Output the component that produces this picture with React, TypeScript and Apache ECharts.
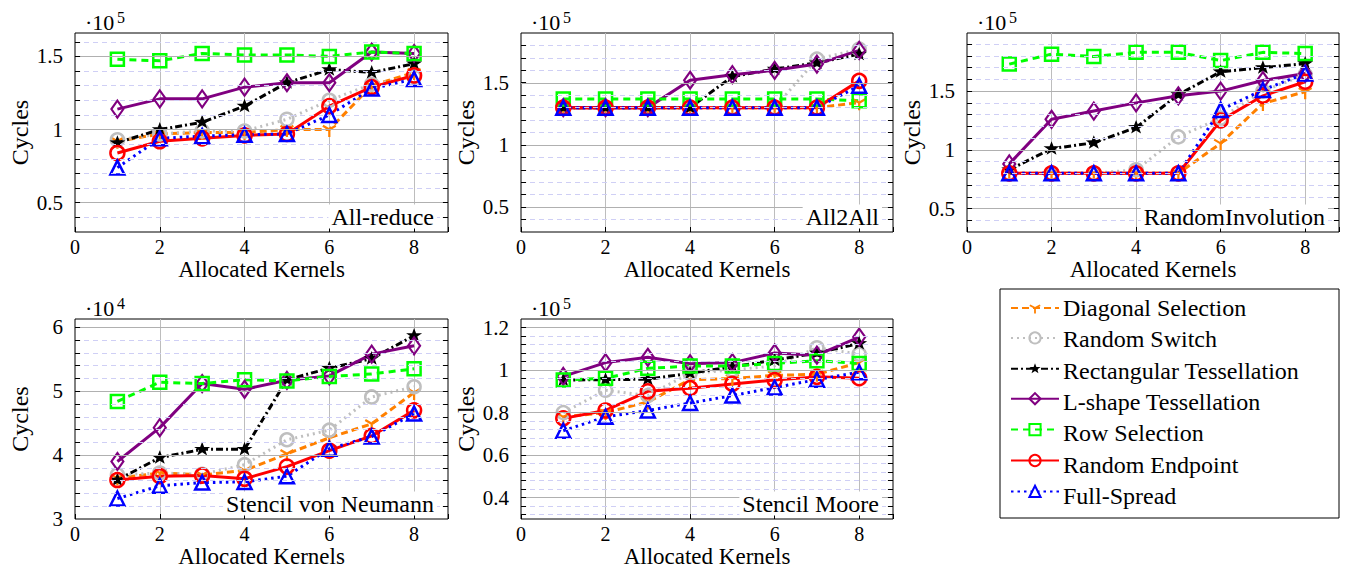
import React, { useEffect, useRef } from "react";
import * as echarts from "echarts";

const FONT = "Liberation Serif, Times New Roman, serif";

const kernels = [1, 2, 3, 4, 5, 6, 7, 8];
const xTicks = [0, 2, 4, 6, 8];

const seriesNames = [
  "Diagonal Selection",
  "Random Switch",
  "Rectangular Tessellation",
  "L-shape Tessellation",
  "Row Selection",
  "Random Endpoint",
  "Full-Spread",
];

const panelTitles = ["All-reduce", "All2All", "RandomInvolution", "Stencil von Neumann", "Stencil Moore"];
const panelExponents = ["5", "5", "5", "4", "5"];
const xAxisName = "Allocated Kernels";
const yAxisName = "Cycles";

// rows follow seriesNames order; values in units of 10^exponent
const allReduce = [
  [0.92, 0.97, 0.98, 0.98, 1.0, 1.0, 1.3, 1.39],
  [0.93, 0.97, 0.99, 0.99, 1.07, 1.2, 1.31, 1.36],
  [0.91, 1.0, 1.05, 1.16, 1.32, 1.41, 1.39, 1.45],
  [1.14, 1.21, 1.21, 1.29, 1.32, 1.32, 1.53, 1.52],
  [1.48, 1.47, 1.52, 1.51, 1.51, 1.5, 1.53, 1.52],
  [0.84, 0.92, 0.94, 0.96, 0.97, 1.16, 1.29, 1.37],
  [0.74, 0.94, 0.955, 0.965, 0.97, 1.1, 1.28, 1.345],
];
const all2All = [
  [1.3, 1.3, 1.3, 1.3, 1.3, 1.3, 1.3, 1.34],
  [1.3, 1.3, 1.3, 1.3, 1.3, 1.3, 1.69, 1.77],
  [1.3, 1.3, 1.3, 1.3, 1.55, 1.61, 1.66, 1.73],
  [1.3, 1.3, 1.3, 1.52, 1.565, 1.6, 1.65, 1.76],
  [1.37, 1.37, 1.37, 1.37, 1.37, 1.37, 1.37, 1.355],
  [1.3, 1.3, 1.3, 1.3, 1.3, 1.3, 1.3, 1.515],
  [1.3, 1.3, 1.3, 1.3, 1.3, 1.3, 1.3, 1.475],
];
const randomInvolution = [
  [0.8, 0.8, 0.8, 0.8, 0.8, 1.055, 1.395, 1.495],
  [0.8, 0.8, 0.8, 0.83, 1.11, 1.27, 1.5, 1.64],
  [0.83, 1.01, 1.06, 1.19, 1.47, 1.665, 1.7, 1.735],
  [0.88, 1.26, 1.33, 1.4, 1.46, 1.5, 1.59, 1.65],
  [1.73, 1.815, 1.795, 1.83, 1.83, 1.76, 1.83, 1.82],
  [0.8, 0.8, 0.8, 0.8, 0.8, 1.25, 1.46, 1.58],
  [0.8, 0.8, 0.8, 0.8, 0.8, 1.34, 1.51, 1.65],
];
const stencilVonNeumann = [
  [3.64, 3.72, 3.69, 3.76, 4.02, 4.27, 4.49, 4.98],
  [3.69, 3.72, 3.7, 3.85, 4.24, 4.39, 4.91, 5.07],
  [3.61, 3.96, 4.09, 4.09, 5.18, 5.36, 5.51, 5.87],
  [3.9, 4.43, 5.12, 5.03, 5.17, 5.24, 5.58, 5.71],
  [4.84, 5.14, 5.12, 5.18, 5.16, 5.23, 5.27, 5.35],
  [3.61, 3.67, 3.68, 3.63, 3.82, 4.07, 4.3, 4.7],
  [3.32, 3.52, 3.57, 3.58, 3.67, 4.1, 4.29, 4.65],
];
const stencilMoore = [
  [0.78, 0.8, 0.85, 0.955, 0.96, 0.975, 0.98, 1.035],
  [0.8, 0.905, 0.88, 0.985, 1.0, 1.02, 1.105, 1.075],
  [0.953, 0.955, 0.957, 0.985, 1.015, 1.047, 1.08, 1.125],
  [0.97, 1.035, 1.06, 1.03, 1.035, 1.08, 1.07, 1.155],
  [0.953, 0.961, 1.008, 1.019, 1.019, 1.031, 1.044, 1.031],
  [0.773, 0.81, 0.9, 0.915, 0.935, 0.953, 0.968, 0.962],
  [0.715, 0.78, 0.81, 0.845, 0.88, 0.918, 0.955, 0.99],
];

const panelValues = [allReduce, all2All, randomInvolution, stencilVonNeumann, stencilMoore];

const yMajorTicks = [
  [0.5, 1, 1.5],
  [0.5, 1, 1.5],
  [0.5, 1, 1.5],
  [3, 4, 5, 6],
  [0.4, 0.6, 0.8, 1, 1.2],
];
const yMinorSteps = [0.1, 0.1, 0.1, 0.2, 0.04];
const yLabelSteps = [0.1, 0.1, 0.1, 0.2, 0.02];
const yRanges = [
  [0.3, 1.66],
  [0.3, 1.9],
  [0.3, 1.995],
  [3, 6.13],
  [0.3, 1.24],
];
const xRange = [0, 8.8];

const gridBoxes = [
  { left: 75, top: 33, width: 373, height: 199 },
  { left: 521, top: 33, width: 372, height: 199 },
  { left: 967, top: 33, width: 372, height: 199 },
  { left: 75, top: 319, width: 373, height: 200 },
  { left: 521, top: 319, width: 372, height: 200 },
];

const Y_PATH =
  "path://M-0.15,0L-0.15,1L0.15,1L0.15,0Z" +
  "M0.075,-0.13L-0.791,-0.63L-0.941,-0.37L-0.075,0.13Z" +
  "M0.075,0.13L0.941,-0.37L0.791,-0.63L-0.075,-0.13Z" +
  "M0,-1L0.001,-1L0,-1Z";
const STAR_PATH =
  "path://M0,-1L0.235,-0.324L0.951,-0.309L0.38,0.124L0.588,0.809L0,0.4L-0.588,0.809L-0.38,0.124L-0.951,-0.309L-0.235,-0.324Z" +
  "M0,1L0.001,1L0,1Z";

const LW = 3;
const seriesStyles = [
  { color: "#ff8000", dash: [7, 4], symbol: Y_PATH, size: [14, 15], fill: "#ff8000", bw: 0 },
  { color: "#bfbfbf", dash: [2, 4], symbol: "circle", size: 13, fill: "rgba(0,0,0,0)", bw: 2.5 },
  { color: "#000000", dash: [7, 3, 2, 3], symbol: STAR_PATH, size: [16, 15], fill: "#000000", bw: 0 },
  { color: "#800080", dash: "solid", symbol: "diamond", size: [12, 17], fill: "rgba(0,0,0,0)", bw: 2.2 },
  { color: "#00ff00", dash: [7, 5], symbol: "rect", size: 13, fill: "rgba(0,0,0,0)", bw: 2.5 },
  { color: "#ff0000", dash: "solid", symbol: "circle", size: 14, fill: "rgba(0,0,0,0)", bw: 2.5 },
  { color: "#0000ff", dash: [2.5, 4], symbol: "triangle", size: 14, fill: "rgba(0,0,0,0)", bw: 2.5 },
];

const near = (a: number, b: number) => Math.abs(a - b) < 1e-6;
const fmt = (v: number) => String(parseFloat(v.toFixed(3)));

const LEGEND_TOP = 301;
const LEGEND_ROW = 31.3;
const LEGEND_ICON_H = 14;

function buildOption() {
  const grid: any[] = [];
  const xAxis: any[] = [];
  const yAxis: any[] = [];
  const series: any[] = [];

  panelValues.forEach((values, p) => {
    const box = gridBoxes[p];
    const [yMin, yMax] = yRanges[p];
    const majors = yMajorTicks[p];
    grid.push({ ...box, show: true, borderColor: "#000", borderWidth: 1, backgroundColor: "transparent" });
    xAxis.push({
      type: "value",
      gridIndex: p,
      min: xRange[0],
      max: xRange[1],
      interval: 2,
      axisLine: { show: false },
      axisTick: { show: true, inside: true, length: 5, lineStyle: { color: "#000" } },
      axisLabel: { show: false },
      splitLine: { show: true, showMinLine: false, showMaxLine: false, lineStyle: { color: "#bdbdbd", width: 1 } },
    });
    yAxis.push({
      type: "value",
      gridIndex: p,
      min: yMin,
      max: yMax,
      interval: yLabelSteps[p],
      axisLine: { show: false },
      axisTick: { show: false },
      splitLine: { show: false },
      axisLabel: { show: false },
    });

    const step = yMinorSteps[p];
    const lines: any[] = [];
    const tickLines: any[] = [];
    const tickLen = 0.12;
    const start = Math.ceil(yMin / step - 1e-9);
    const end = Math.floor(yMax / step + 1e-9);
    for (let k = start; k <= end; k++) {
      const v = parseFloat((k * step).toFixed(6));
      if (v <= yMin + 1e-6 || v >= yMax - 1e-6) continue;
      const isMajor = majors.some((t) => near(t, v));
      lines.push({
        yAxis: v,
        lineStyle: isMajor
          ? { color: "#b0b0b0", type: "solid", width: 1 }
          : { color: "#cfcff5", type: [5, 4], width: 1 },
      });
      const ts = { color: "#000", type: "solid", width: 1 };
      tickLines.push([
        { coord: [xRange[0], v], lineStyle: ts },
        { coord: [xRange[0] + tickLen, v], lineStyle: ts },
      ]);
      tickLines.push([
        { coord: [xRange[1] - tickLen, v], lineStyle: ts },
        { coord: [xRange[1], v], lineStyle: ts },
      ]);
    }
    series.push({
      type: "line",
      name: "_grid" + p,
      xAxisIndex: p,
      yAxisIndex: p,
      data: [],
      z: 1,
      silent: true,
      symbol: "none",
      markLine: {
        silent: true,
        symbol: ["none", "none"],
        label: { show: false },
        emphasis: { disabled: true },
        animation: false,
        data: [...lines, ...tickLines],
      },
    });

    values.forEach((row, s) => {
      const st = seriesStyles[s];
      series.push({
        type: "line",
        name: seriesNames[s],
        xAxisIndex: p,
        yAxisIndex: p,
        z: 3,
        clip: false,
        data: kernels.map((k, i) => [k, row[i]]),
        symbol: st.symbol,
        symbolSize: st.size,
        showSymbol: true,
        lineStyle: { color: st.color, width: LW, type: st.dash },
        itemStyle: { color: st.fill, borderColor: st.color, borderWidth: st.bw },
        emphasis: { disabled: true },
      });
    });
  });

  return {
    animation: false,
    backgroundColor: "#fff",
    textStyle: { fontFamily: FONT },
    grid,
    xAxis,
    yAxis,
    series,
    legend: {
      data: seriesNames,
      orient: "vertical",
      left: 1010,
      top: LEGEND_TOP,
      padding: 0,
      itemWidth: 48,
      itemHeight: LEGEND_ICON_H,
      itemGap: LEGEND_ROW - LEGEND_ICON_H,
      selectedMode: false,
      z: 10,
      formatter: () => "",
      textStyle: { fontSize: 1 },
    },
  };
}

const txt = (x: number, y: number, text: string, size: number, align: string, vAlign: string, extra: any = {}) => ({
  type: "text",
  x,
  y,
  z: 50,
  silent: true,
  ...extra,
  style: {
    text,
    align,
    verticalAlign: vAlign,
    fontSize: size,
    fontFamily: FONT,
    fill: "#000",
    ...(extra.style || {}),
  },
});

function buildGraphic(chart: any) {
  const graphic: any[] = [];
  graphic.push({
    type: "rect",
    z: 1,
    shape: { x: 1000, y: 289, width: 339, height: 229 },
    style: { fill: "#fff", stroke: "#000", lineWidth: 1 },
  });
  panelValues.forEach((_, p) => {
    const box = gridBoxes[p];
    const bottom = box.top + box.height;
    xTicks.forEach((t) => {
      const pt = chart.convertToPixel({ gridIndex: p }, [t, yRanges[p][0]]);
      graphic.push(txt(pt[0], bottom + 15, fmt(t), 20, "center", "middle"));
    });
    yMajorTicks[p].forEach((t) => {
      const pt = chart.convertToPixel({ gridIndex: p }, [xRange[0], t]);
      graphic.push(txt(box.left - 12, pt[1], fmt(t), 21, "right", "middle"));
    });
    graphic.push(txt(box.left + box.width / 2, bottom + 37.5, xAxisName, 23, "center", "middle"));
    graphic.push(
      txt(box.left - 55, box.top + box.height / 2, yAxisName, 24, "center", "middle", { rotation: Math.PI / 2 })
    );
    graphic.push(
      txt(box.left + box.width - 11, bottom - 15.5, panelTitles[p], 24, "right", "middle", {
        style: { backgroundColor: "#fff", padding: [0, 3] },
      })
    );
    graphic.push(txt(box.left + 10, box.top - 11, "·10", 22, "left", "middle"));
    graphic.push(txt(box.left + 42, box.top - 16, panelExponents[p], 16, "left", "middle"));
  });
  seriesNames.forEach((name, i) => {
    graphic.push(txt(1063, LEGEND_TOP + LEGEND_ICON_H / 2 + i * LEGEND_ROW, name, 24, "left", "middle"));
  });
  return graphic;
}

export default function App() {
  const ref = useRef<HTMLDivElement>(null);
  useEffect(() => {
    if (!ref.current) return;
    const chart = echarts.init(ref.current, undefined, { renderer: "svg" });
    chart.setOption(buildOption() as any);
    chart.setOption({ graphic: buildGraphic(chart) } as any);
    return () => chart.dispose();
  }, []);
  return (
    <div
      ref={ref}
      style={{ position: "fixed", left: 0, top: 0, width: 1351, height: 574, background: "#fff" }}
    />
  );
}
